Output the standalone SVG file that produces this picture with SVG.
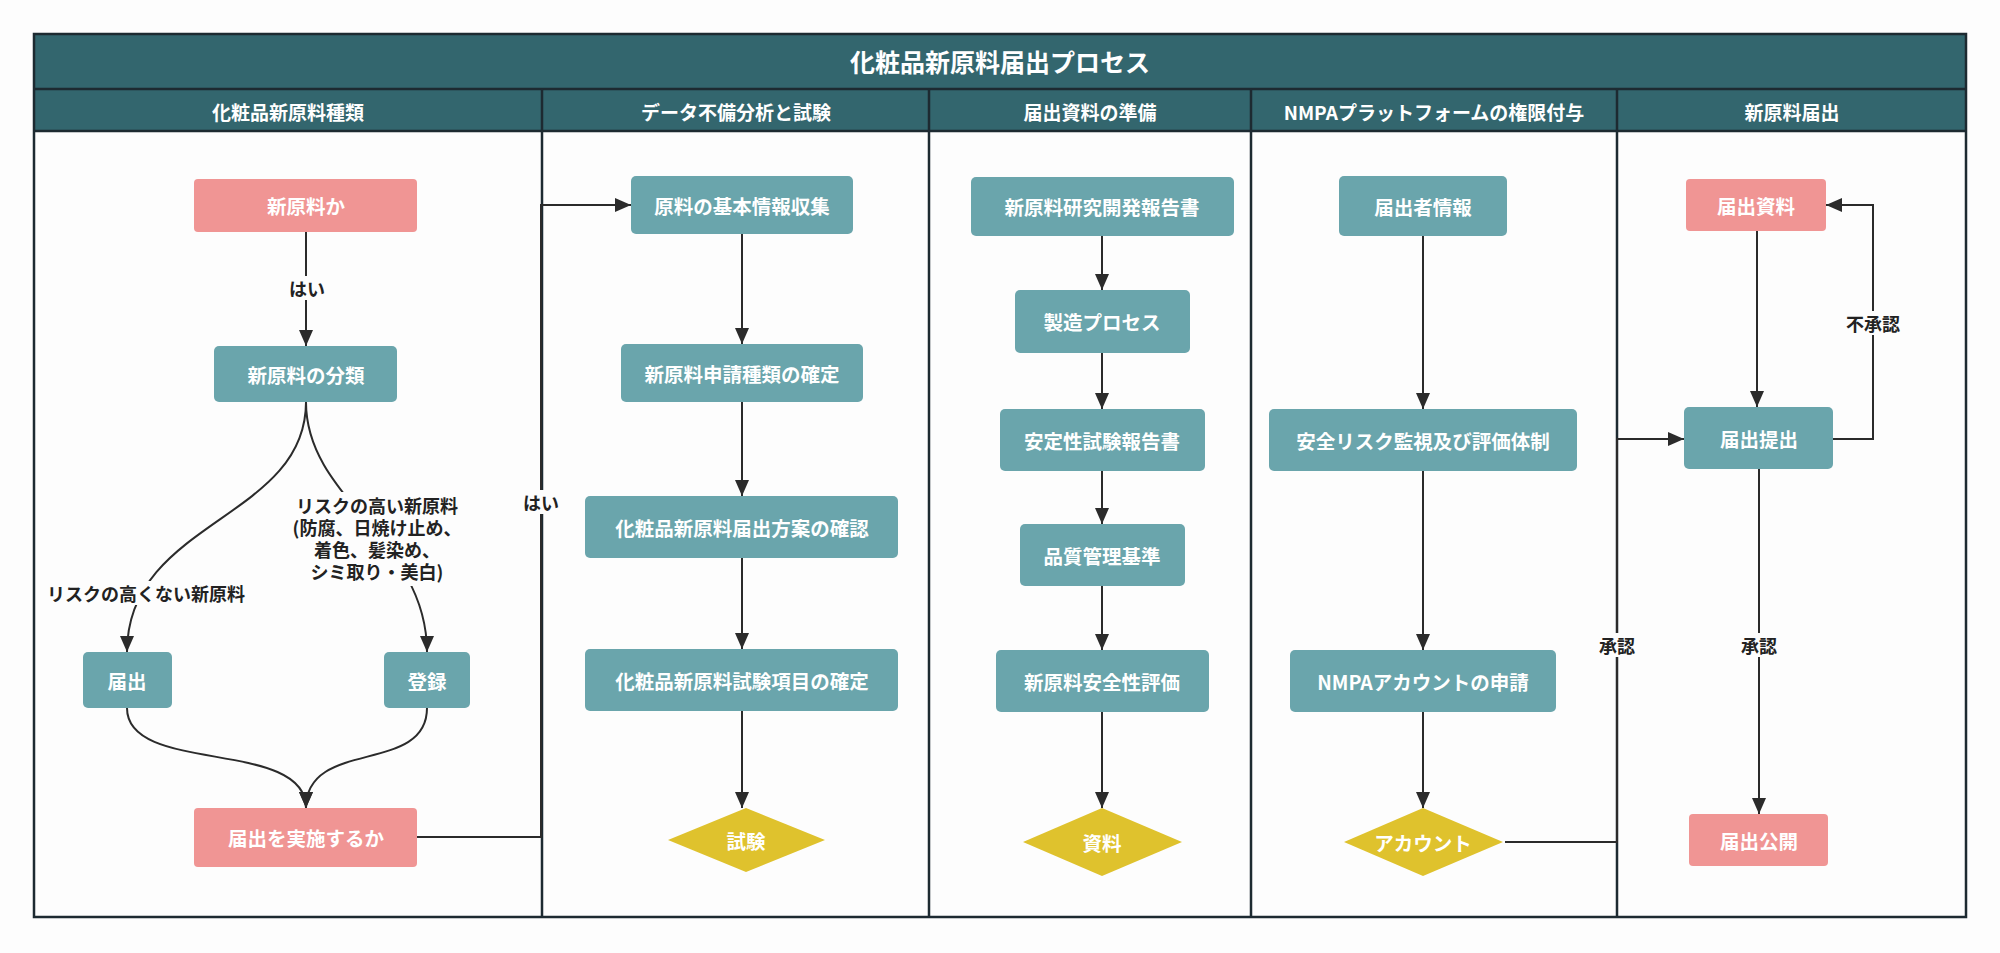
<svg xmlns="http://www.w3.org/2000/svg" width="2000" height="953" viewBox="0 0 2000 953">
<defs>
<style>
.frame{fill:none;stroke:#1d2a31;stroke-width:2.5}
.band{fill:#33666e}
.div{stroke:#1d2a31;stroke-width:2.5}
.ttl{font-family:"Noto Sans CJK JP","Noto Sans",sans-serif;font-weight:700;fill:#fff;text-anchor:middle;dominant-baseline:central}
.teal{fill:#6aa5ac}
.pink{fill:#f09594}
.yel{fill:#dfc22d}
.nt{font-family:"Noto Sans CJK JP","Noto Sans",sans-serif;font-weight:700;font-size:19.5px;fill:#fff;text-anchor:middle;dominant-baseline:central}
.ln{fill:none;stroke:#2b2b2b;stroke-width:2}
.lb{font-family:"Noto Sans CJK JP","Noto Sans",sans-serif;font-weight:700;font-size:18px;fill:#222;text-anchor:middle;dominant-baseline:central}
.lbg{fill:#fdfdfd}
</style>
<marker id="ah" markerUnits="userSpaceOnUse" markerWidth="16" markerHeight="14" refX="16" refY="7" orient="auto">
<path d="M0,0 L16,7 L0,14 z" fill="#2b2b2b"/>
</marker>
</defs>
<rect x="0" y="0" width="2000" height="953" fill="#fdfdfd"/>
<g id="frame">
<rect class="band" x="34" y="34" width="1932" height="97"/>
<line class="div" x1="34" y1="89" x2="1966" y2="89"/>
<line class="div" x1="34" y1="131" x2="1966" y2="131"/>
<line class="div" x1="542" y1="89" x2="542" y2="917"/>
<line class="div" x1="929" y1="89" x2="929" y2="917"/>
<line class="div" x1="1251" y1="89" x2="1251" y2="917"/>
<line class="div" x1="1617" y1="89" x2="1617" y2="917"/>
<rect class="frame" x="34" y="34" width="1932" height="883"/>
<text class="ttl" x="1000" y="61" font-size="25">化粧品新原料届出プロセス</text>
<text class="ttl" x="288" y="111" font-size="19">化粧品新原料種類</text>
<text class="ttl" x="736" y="111" font-size="19">データ不備分析と試験</text>
<text class="ttl" x="1090" y="111" font-size="19">届出資料の準備</text>
<text class="ttl" x="1434" y="111" font-size="19">NMPAプラットフォームの権限付与</text>
<text class="ttl" x="1792" y="111" font-size="19">新原料届出</text>
</g>
<g id="connectors">
<line class="ln" x1="306" y1="232" x2="306" y2="346" marker-end="url(#ah)"/>
<path class="ln" d="M306,402 C306,520 127,520 127,652" marker-end="url(#ah)"/>
<path class="ln" d="M306,402 C306,500 427,540 427,652" marker-end="url(#ah)"/>
<path class="ln" d="M127,708 C127,775 306,738 306,808" marker-end="url(#ah)"/>
<path class="ln" d="M427,708 C427,775 306,738 306,808" marker-end="url(#ah)"/>
<path class="ln" d="M417,837 H541 V205 H631" marker-end="url(#ah)"/>
<line class="ln" x1="742" y1="234" x2="742" y2="344" marker-end="url(#ah)"/>
<line class="ln" x1="742" y1="402" x2="742" y2="496" marker-end="url(#ah)"/>
<line class="ln" x1="742" y1="558" x2="742" y2="649" marker-end="url(#ah)"/>
<line class="ln" x1="742" y1="711" x2="742" y2="808" marker-end="url(#ah)"/>
<line class="ln" x1="1102" y1="236" x2="1102" y2="290" marker-end="url(#ah)"/>
<line class="ln" x1="1102" y1="353" x2="1102" y2="409" marker-end="url(#ah)"/>
<line class="ln" x1="1102" y1="471" x2="1102" y2="524" marker-end="url(#ah)"/>
<line class="ln" x1="1102" y1="586" x2="1102" y2="650" marker-end="url(#ah)"/>
<line class="ln" x1="1102" y1="712" x2="1102" y2="808" marker-end="url(#ah)"/>
<line class="ln" x1="1423" y1="236" x2="1423" y2="409" marker-end="url(#ah)"/>
<line class="ln" x1="1423" y1="471" x2="1423" y2="650" marker-end="url(#ah)"/>
<line class="ln" x1="1423" y1="712" x2="1423" y2="808" marker-end="url(#ah)"/>
<path class="ln" d="M1505,842 H1617 V439 H1684" marker-end="url(#ah)"/>
<line class="ln" x1="1757" y1="231" x2="1757" y2="407" marker-end="url(#ah)"/>
<line class="ln" x1="1759" y1="469" x2="1759" y2="814" marker-end="url(#ah)"/>
<path class="ln" d="M1833,439 H1873 V205 H1826" marker-end="url(#ah)"/>
<rect class="lbg" x="287" y="276" width="40" height="24"/>
<text class="lb" x="307" y="288">はい</text>
<rect class="lbg" x="40" y="581" width="212" height="24"/>
<text class="lb" x="146" y="593">リスクの高くない新原料</text>
<rect class="lbg" x="290" y="492" width="174" height="94"/>
<text class="lb" x="377" y="505">リスクの高い新原料</text>
<text class="lb" x="377" y="527">(防腐、日焼け止め、</text>
<text class="lb" x="377" y="549">着色、髪染め、</text>
<text class="lb" x="377" y="571">シミ取り・美白)</text>
<rect class="lbg" x="521" y="490" width="40" height="24"/>
<text class="lb" x="541" y="502">はい</text>
<rect class="lbg" x="1597" y="633" width="40" height="24"/>
<text class="lb" x="1617" y="645">承認</text>
<rect class="lbg" x="1739" y="633" width="40" height="24"/>
<text class="lb" x="1759" y="645">承認</text>
<rect class="lbg" x="1845" y="311" width="56" height="24"/>
<text class="lb" x="1873" y="323">不承認</text>
</g>
<g id="n1"><rect class="pink" x="194" y="179" width="223" height="53" rx="4"/><text class="nt" x="306" y="205">新原料か</text></g>
<g id="n2"><rect class="teal" x="214" y="346" width="183" height="56" rx="5"/><text class="nt" x="306" y="374">新原料の分類</text></g>
<g id="n3"><rect class="teal" x="83" y="652" width="89" height="56" rx="5"/><text class="nt" x="127" y="680">届出</text></g>
<g id="n4"><rect class="teal" x="384" y="652" width="86" height="56" rx="5"/><text class="nt" x="427" y="680">登録</text></g>
<g id="n5"><rect class="pink" x="194" y="808" width="223" height="59" rx="4"/><text class="nt" x="306" y="837">届出を実施するか</text></g>
<g id="n6"><rect class="teal" x="631" y="176" width="222" height="58" rx="5"/><text class="nt" x="742" y="205">原料の基本情報収集</text></g>
<g id="n7"><rect class="teal" x="621" y="344" width="242" height="58" rx="5"/><text class="nt" x="742" y="373">新原料申請種類の確定</text></g>
<g id="n8"><rect class="teal" x="585" y="496" width="313" height="62" rx="5"/><text class="nt" x="742" y="527">化粧品新原料届出方案の確認</text></g>
<g id="n9"><rect class="teal" x="585" y="649" width="313" height="62" rx="5"/><text class="nt" x="742" y="680">化粧品新原料試験項目の確定</text></g>
<g id="n10"><polygon class="yel" points="746,808 825,840 746,872 668,840"/><text class="nt" x="746" y="840">試験</text></g>
<g id="n11"><rect class="teal" x="971" y="177" width="263" height="59" rx="5"/><text class="nt" x="1102" y="206">新原料研究開発報告書</text></g>
<g id="n12"><rect class="teal" x="1015" y="290" width="175" height="63" rx="5"/><text class="nt" x="1102" y="321">製造プロセス</text></g>
<g id="n13"><rect class="teal" x="1000" y="409" width="205" height="62" rx="5"/><text class="nt" x="1102" y="440">安定性試験報告書</text></g>
<g id="n14"><rect class="teal" x="1020" y="524" width="165" height="62" rx="5"/><text class="nt" x="1102" y="555">品質管理基準</text></g>
<g id="n15"><rect class="teal" x="996" y="650" width="213" height="62" rx="5"/><text class="nt" x="1102" y="681">新原料安全性評価</text></g>
<g id="n16"><polygon class="yel" points="1102,808 1182,842 1102,876 1023,842"/><text class="nt" x="1102" y="842">資料</text></g>
<g id="n17"><rect class="teal" x="1339" y="176" width="168" height="60" rx="5"/><text class="nt" x="1423" y="206">届出者情報</text></g>
<g id="n18"><rect class="teal" x="1269" y="409" width="308" height="62" rx="5"/><text class="nt" x="1423" y="440">安全リスク監視及び評価体制</text></g>
<g id="n19"><rect class="teal" x="1290" y="650" width="266" height="62" rx="5"/><text class="nt" x="1423" y="681">NMPAアカウントの申請</text></g>
<g id="n20"><polygon class="yel" points="1423,808 1503,842 1423,876 1344,842"/><text class="nt" x="1423" y="842">アカウント</text></g>
<g id="n21"><rect class="pink" x="1686" y="179" width="140" height="52" rx="4"/><text class="nt" x="1756" y="205">届出資料</text></g>
<g id="n22"><rect class="teal" x="1684" y="407" width="149" height="62" rx="5"/><text class="nt" x="1759" y="438">届出提出</text></g>
<g id="n23"><rect class="pink" x="1689" y="814" width="139" height="52" rx="4"/><text class="nt" x="1759" y="840">届出公開</text></g>
</svg>
